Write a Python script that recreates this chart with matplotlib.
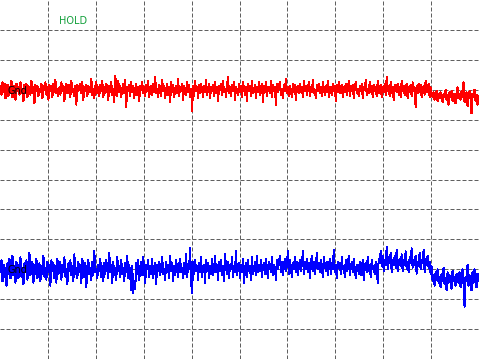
import numpy as np
import matplotlib
matplotlib.use("Agg")
import matplotlib.pyplot as plt

# scope capture: 480 samples per channel, raw ADC counts
ch1_counts_per_div = 24
ch2_counts_per_div = 20
ch1_offset_div = 3    # red channel ground level
ch2_offset_div = -3   # blue channel ground level

ch1 = [
    3, -4, 6, -2, 5, -7, 1, 4, -5, 2, -3, 7, -6, 0, 3, -8, 5, -1, 2, -4,
    6, -3, 1, -9, 4, -2, 5, -6, 3, 0, -4, 7, -3, 2, -11, 4, -1, 3, -5, 1,
    -2, 5, -7, 3, 0, 6, -4, 2, -8, 4, -1, 3, -6, 5, -2, 8, -3, 1, -5, 2,
    -4, 6, -1, 3, -9, 2, 5, -3, 0, 4, -6, 7, -2, 1, -5, 3, -12, 4, -1, 2,
    5, -3, 6, -8, 2, -1, 4, -5, 3, 0, -2, 9, -4, 1, -7, 3, 6, -3, 2, -5,
    4, -1, 7, -6, 2, -3, 5, 0, -8, 3, -2, 6, -4, 1, -10, 11, 2, -5, 7, -2,
    3, -6, 1, 5, -3, 8, -14, 2, -1, 4, -5, 6, -2, 3, -7, 1, 5, -4, 2, -9,
    3, 0, 6, -3, 2, -5, 4, -1, 7, -6, 1, 3, -4, 5, -2, 10, -3, 1, -6, 4,
    2, -5, 8, -1, 3, -7, 0, 5, -4, 2, -10, 6, -2, 4, -6, 1, 3, -3, 9, -5,
    2, -1, 5, -8, 3, 0, -4, 6, -2, 4, -6, 1, -17, 3, -5, 7, -1, 2, -7, 4,
    -3, 5, 0, -6, 3, -2, 8, -4, 1, 5, -7, 2, -1, 4, -5, 6, -3, 2, -9, 3,
    0, 5, -4, 7, -2, 1, -6, 3, 10, -3, 2, -5, 4, -1, 6, -8, 2, 0, -4, 5,
    -2, 3, -6, 6, 1, -4, 2, -9, 5, -1, 3, -5, 7, -3, 0, 4, -7, 2, -2, 6,
    -4, 1, 5, -10, 3, -2, 6, -5, 2, 0, -3, 7, -6, 4, -1, 2, -12, 5, -2, 3,
    6, -4, 1, -7, 4, -1, 9, -3, 2, -5, 3, 0, -6, 5, -2, 4, -8, 1, 3, -3,
    5, -2, 2, -6, 7, -1, 3, -4, 1, 6, -5, 2, -2, 8, -3, 0, -7, 4, -1, 5,
    -3, 2, -5, 6, 1, -4, 3, -2, 7, -6, 2, 0, -4, 5, -1, 3, -9, 4, -2, 6,
    -3, 1, 4, -6, 2, -2, 5, -4, 0, 7, -5, 3, -1, 4, -7, 2, 6, -3, 1, -5,
    3, -1, 5, -7, 2, 0, 8, -4, 1, -3, 6, -2, 3, -6, 4, -1, 2, -5, 7, -3,
    1, 4, -6, 2, -2, 5, -4, 10, -1, 3, -5, 6, -3, 2, -8, 4, 0, -2, 5, -4,
    2, -6, 7, -1, 3, -4, 1, 5, -7, 2, -2, 4, -5, 6, -1, 2, -14, 3, -3, 5,
    -2, 4, -6, 1, 3, -4, 7, -2, 0, 5, -6, 2, -3, -6, -2, -8, -4, -1, -9, -3,
    -7, -2, -5, -10, -3, -6, 0, -8, -4, -12, -2, -6, -1, -9, -5, -3, -11, -4, 2, -7,
    -3, -8, -1, -6, 6, -10, -4, -2, -13, -5, -1, -7, -19, -3, -6, 0, -9, -4, -12, -5,
]

ch2 = [
    -2, 6, -8, 3, -5, 1, -11, 4, -3, 7, -6, 0, 9, -4, 2, -9, 5, -1, -6, 3,
    8, -5, 1, -10, 4, -2, 6, -7, 2, 11, -4, -1, 5, -9, 3, -3, 7, -6, 0, 4,
    -8, 2, -3, 9, -5, 1, -7, 5, -2, 3, -11, 6, -1, 4, -6, 2, -9, 7, -3, 1,
    5, -7, 3, -2, 8, -5, 0, -10, 4, -1, 6, -4, 2, -8, 10, -3, 1, -6, 5, -2,
    3, -9, 7, -1, -5, 4, -12, 2, 6, -3, 1, -7, 5, -4, 12, -2, 0, -6, 3, -1,
    7, -5, 2, -8, 4, -3, 6, 0, -6, 11, -2, 3, -9, 5, -4, 1, -7, 8, -1, 2,
    -5, 6, -3, 1, -8, 4, -2, 9, -6, 3, -4, -14, 2, -16, -8, -13, 4, -3, 6, -7,
    1, 5, -4, 8, -2, -9, 3, 0, 6, -5, 2, -3, 7, -6, 1, 4, -10, 3, -1, 5,
    -4, 2, 8, -3, 0, -7, 5, -2, 3, -6, 9, -1, 4, -8, 2, -4, 6, 0, -5, 3,
    7, -2, 1, -6, 4, -3, 10, -5, 2, 0, 14, -8, -16, 5, -3, 6, -1, 2, -7, 4,
    -2, 8, -5, 1, 3, -9, 6, -1, 4, -6, 2, -3, 7, -4, 0, 9, -2, 3, -7, 5,
    -1, 6, -4, 2, -8, 10, 1, -3, 5, -6, 3, 0, 8, -5, 2, -2, 12, -4, 1, 4,
    -6, 3, -2, 7, -9, 1, 4, -5, 6, -1, 2, -7, 8, -3, 0, 5, -4, 9, -2, 3,
    -1, 6, -5, 2, 4, -3, 7, 0, -6, 5, 2, -2, 8, -4, 3, 1, -7, 6, 0, 4,
    9, -2, 5, -4, 2, 7, -1, 3, 12, -3, 6, 1, -5, 4, 0, 8, -2, 5, -4, 2,
    6, -1, 3, 12, -3, 5, 0, 7, -2, 4, -6, 3, 9, -1, 5, -3, 2, 11, 0, 4,
    -2, 6, 1, -5, 8, 3, -1, 5, -4, 2, 7, -3, 4, 0, 13, -2, 3, -6, 5, 1,
    4, -3, 8, 0, 2, -5, 6, -1, 3, 9, -4, 1, 5, -2, 7, 0, -6, 3, 2, -3,
    5, -4, 1, 6, -7, 2, 4, -2, 8, -1, 3, -5, 6, 0, 2, -3, 5, 1, -9, 7,
    4, 12, 2, 9, -1, 6, 3, 15, 0, 8, 4, 11, -2, 6, 3, 9, 1, 13, -1, 5,
    7, 2, 10, -1, 6, 3, 12, 0, 5, -2, 8, 4, 14, 1, 6, 3, 9, -3, 5, 2,
    11, 0, 6, 4, 13, -2, 7, 3, 9, 1, 5, -3, 2, -8, -4, -11, -2, -7, 0, -9,
    -5, -12, -3, -8, 1, -10, -6, -14, -2, -9, -4, -7, -13, -1, -8, -5, -11, -3, -6, -9,
    -2, -12, -7, 0, -10, -25, -5, -8, 3, -11, -4, -7, -14, -2, -9, 0, -6, -12, -3, -8,
]

n = len(ch1)
t = (np.arange(n) + 0.5) / 48.0   # 48 samples per horizontal division

fig = plt.figure(figsize=(4.79, 3.59), dpi=100)
ax = fig.add_axes([0, 0, 1, 1])

ax.plot(t, ch1_offset_div + np.array(ch1) / ch1_counts_per_div, color='#ff0000',
        lw=0.72, antialiased=False, zorder=3)
ax.plot(t, ch2_offset_div + np.array(ch2) / ch2_counts_per_div, color='#0000ff',
        lw=0.72, antialiased=False, zorder=3)

ax.set_xlim(0, 10)
ax.set_ylim(-6, 6)
ax.set_xticks(range(1, 10))
ax.set_yticks(range(-5, 6))
ax.grid(True, color='#606060', lw=0.72, linestyle=(0, (4, 2)), zorder=1)
ax.tick_params(length=0, labelbottom=False, labelleft=False)
for s in ax.spines.values():
    s.set_visible(False)

# overlay labels
ax.text(59 / 479, 1 - 21 / 359, 'HOLD', transform=ax.transAxes, color='#14a03c',
        fontsize=7, ha='left', va='center')
ax.text(8 / 479, 1 - 91 / 359, 'Gnd', transform=ax.transAxes, color='black',
        fontsize=7, ha='left', va='center', zorder=5)
ax.text(8 / 479, 1 - 270 / 359, 'Gnd', transform=ax.transAxes, color='black',
        fontsize=7, ha='left', va='center', zorder=5)

fig.savefig('out.png', dpi=100)
